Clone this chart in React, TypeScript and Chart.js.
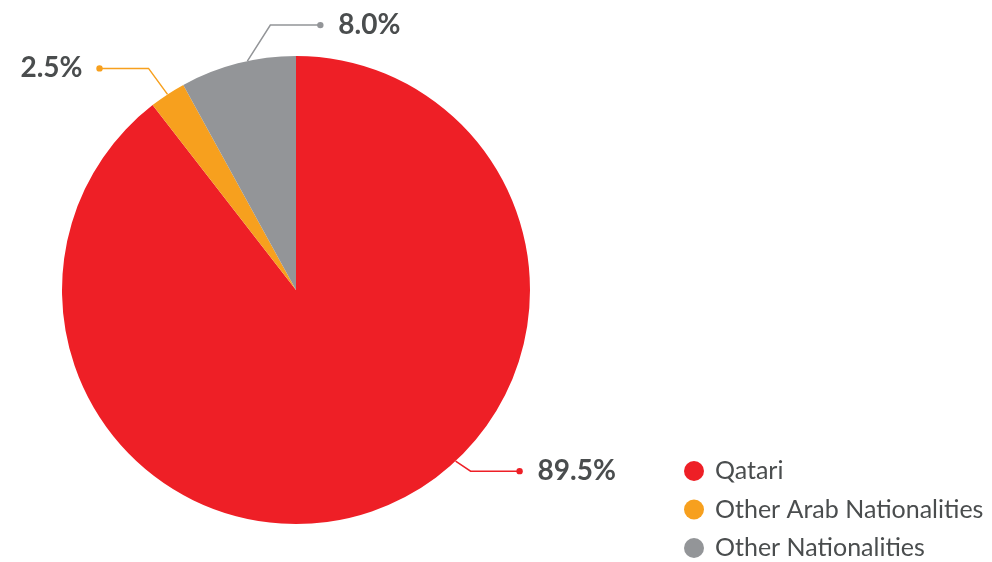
import React, { useEffect, useRef } from "react";
import { Chart, registerables } from "chart.js";

Chart.register(...registerables);

const categories = ["Qatari", "Other Arab Nationalities", "Other Nationalities"];
const shares = [89.5, 2.5, 8.0];
const valueLabels = ["89.5%", "2.5%", "8.0%"];
const sliceColors = ["#ee1f26", "#f7a01e", "#939598"];

// leader line geometry per slice: anchor angle (deg, clockwise from top), elbow offset, horizontal run
const leaders = [
  { angle: 137, ex: 15, ey: 10, run: 49 },
  { angle: 326.7, ex: -19, ey: -26, run: -49 },
  { angle: 348, ex: 23, ey: -36, run: 50 },
];

const TEXT = "#4a4d4e";

const overlayPlugin = {
  id: "overlay",
  afterDraw(chart: any) {
    const ctx = chart.ctx;
    const meta = chart.getDatasetMeta(0);
    const arc0 = meta.data[0];
    const cx = arc0.x;
    const cy = arc0.y;
    const r = arc0.outerRadius;
    ctx.save();
    leaders.forEach((ld, i) => {
      const a = (ld.angle * Math.PI) / 180;
      const sx = cx + r * Math.sin(a);
      const sy = cy - r * Math.cos(a);
      const ex = sx + ld.ex;
      const ey = sy + ld.ey;
      const dx = ex + ld.run;
      ctx.strokeStyle = sliceColors[i];
      ctx.lineWidth = 1.5;
      ctx.beginPath();
      ctx.moveTo(sx, sy);
      ctx.lineTo(ex, ey);
      ctx.lineTo(dx, ey);
      ctx.stroke();
      ctx.fillStyle = sliceColors[i];
      ctx.beginPath();
      ctx.arc(dx, ey, 3.2, 0, Math.PI * 2);
      ctx.fill();
      ctx.fillStyle = TEXT;
      ctx.font = "bold 28px Lato";
      ctx.textBaseline = "middle";
      if (ld.run > 0) {
        ctx.textAlign = "left";
        ctx.fillText(valueLabels[i], dx + 18, ey);
      } else {
        ctx.textAlign = "right";
        ctx.fillText(valueLabels[i], dx - 17, ey);
      }
    });
    // legend
    const lx = 694;
    const ly0 = 471;
    const step = 38.5;
    categories.forEach((c, i) => {
      const y = ly0 + i * step;
      ctx.fillStyle = sliceColors[i];
      ctx.beginPath();
      ctx.arc(lx, y, 10, 0, Math.PI * 2);
      ctx.fill();
      ctx.fillStyle = TEXT;
      ctx.font = "25px Lato";
      ctx.textAlign = "left";
      ctx.textBaseline = "middle";
      ctx.fillText(c, lx + 21, y);
    });
    ctx.restore();
  },
};

export default function App() {
  const ref = useRef<HTMLCanvasElement | null>(null);
  useEffect(() => {
    if (!ref.current) return;
    const chart = new Chart(ref.current, {
      type: "pie",
      data: {
        labels: categories,
        datasets: [
          {
            data: shares,
            backgroundColor: sliceColors,
            borderWidth: 0,
            hoverOffset: 0,
          },
        ],
      },
      options: {
        animation: false,
        responsive: true,
        maintainAspectRatio: false,
        layout: { padding: { top: 56, bottom: 38, left: 62, right: 462 } },
        plugins: { legend: { display: false }, tooltip: { enabled: false } },
      },
      plugins: [overlayPlugin],
    });
    return () => chart.destroy();
  }, []);
  return (
    <div style={{ position: "absolute", left: 0, top: 0, width: 992, height: 562, background: "#fff" }}>
      <canvas ref={ref} />
    </div>
  );
}
